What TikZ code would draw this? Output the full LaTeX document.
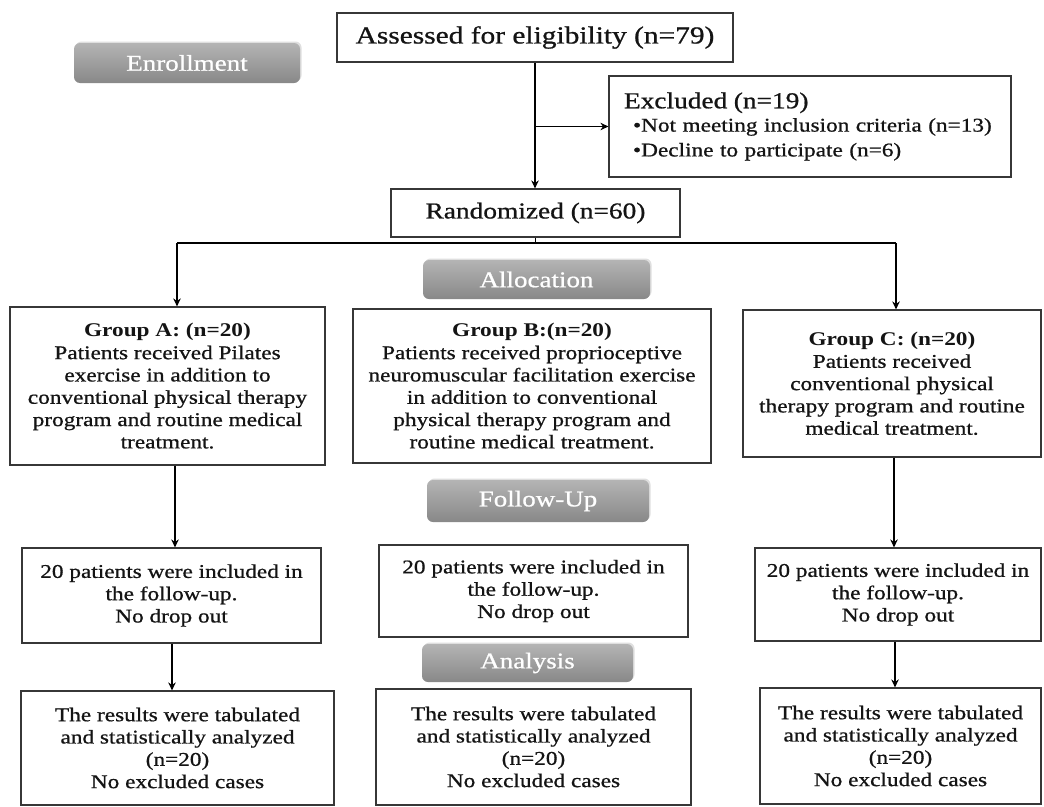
\documentclass[tikz,border=0pt]{standalone}
\usepackage{fontspec}
\setmainfont{Liberation Serif}[FakeStretch=1.2, UprightFeatures={FakeBold=0.8}]
\usetikzlibrary{arrows.meta,shadows}
\definecolor{lblTop}{RGB}{180,180,180}
\definecolor{lblBot}{RGB}{136,136,136}
\definecolor{ink}{RGB}{20,20,20}
\definecolor{edge}{RGB}{55,55,55}
\newcommand{\myBig}{\fontsize{24.5}{29}\selectfont}
\newcommand{\myMid}{\fontsize{22.8}{24.5}\selectfont}
\newcommand{\myLbl}{\fontsize{22.5}{26}\selectfont}
\newcommand{\mySm}{\fontsize{19.4}{22.3}\selectfont}
\tikzset{
  box/.style={draw=edge, line width=1.2pt, fill=white, align=center, inner sep=0pt, text=ink},
  lbl/.style={rounded corners=6pt, top color=lblTop, bottom color=lblBot, draw=none,
              text=white, inner sep=0pt, font=\myLbl,
              drop shadow={opacity=0.25, shadow xshift=1.5pt, shadow yshift=1.5pt}},
  arr/.style={draw=black, line width=1.3pt, -{Stealth[length=8pt,width=7.5pt]}},
  ln/.style={draw=black, line width=1.3pt}
}
\begin{document}
\begin{tikzpicture}[x=1pt,y=-1pt]
\useasboundingbox[fill=white] (0,0) rectangle (1044,806);

% stage labels
\node[lbl, minimum width=226pt, minimum height=40pt] (enroll) at (187,63) {Enrollment};
\node[lbl, minimum width=227pt, minimum height=39pt] (alloc) at (536.5,279.5) {Allocation};
\node[lbl, minimum width=222pt, minimum height=42pt] (follow) at (538,501) {Follow-Up};
\node[lbl, minimum width=211pt, minimum height=38pt] (analysis) at (527.5,663) {Analysis};

% enrollment
\node[box, minimum width=396pt, minimum height=49pt, font=\myBig] (assess) at (535,37.5)
  {Assessed for eligibility (n=79)};
\node[box, text width=372pt, inner xsep=15pt, minimum height=101pt, align=left, font=\mySm] (excl) at (810,126.5)
  {{\myMid Excluded (n=19)}\\[1pt]
   \hspace*{9pt}•Not meeting inclusion criteria (n=13)\\[2.5pt]
   \hspace*{9pt}•Decline to participate (n=6)};
\node[box, minimum width=289pt, minimum height=48pt, font=\myMid] (rand) at (535.5,213)
  {Randomized (n=60)};

% groups
\node[box, minimum width=315pt, minimum height=158pt, font=\mySm] (grpA) at (167.5,386)
  {\textbf{Group A: (n=20)}\\
   Patients received Pilates\\
   exercise in addition to\\
   conventional physical therapy\\
   program and routine medical\\
   treatment.};
\node[box, minimum width=358pt, minimum height=154pt, font=\mySm] (grpB) at (532,386)
  {\textbf{Group B:(n=20)}\\
   Patients received proprioceptive\\
   neuromuscular facilitation exercise\\
   in addition to conventional\\
   physical therapy program and\\
   routine medical treatment.};
\node[box, minimum width=298pt, minimum height=147pt, font=\mySm] (grpC) at (892,383.5)
  {\textbf{Group C: (n=20)}\\
   Patients received\\
   conventional physical\\
   therapy program and routine\\
   medical treatment.};

% follow-up
\node[box, minimum width=299pt, minimum height=95pt, font=\mySm] (fuA) at (171.5,595.5)
  {20 patients were included in\\ the follow-up.\\ No drop out};
\node[box, minimum width=309pt, minimum height=92pt, font=\mySm] (fuB) at (533.5,591)
  {20 patients were included in\\ the follow-up.\\ No drop out};
\node[box, minimum width=286pt, minimum height=93pt, font=\mySm] (fuC) at (898,594.5)
  {20 patients were included in\\ the follow-up.\\ No drop out};

% analysis
\node[box, minimum width=313pt, minimum height=114pt, font=\mySm] (resA) at (177.5,748)
  {The results were tabulated\\ and statistically analyzed\\ (n=20)\\ No excluded cases};
\node[box, minimum width=315pt, minimum height=116pt, font=\mySm] (resB) at (533.5,747)
  {The results were tabulated\\ and statistically analyzed\\ (n=20)\\ No excluded cases};
\node[box, minimum width=281pt, minimum height=116pt, font=\mySm] (resC) at (900.5,746)
  {The results were tabulated\\ and statistically analyzed\\ (n=20)\\ No excluded cases};

% connectors
\coordinate (busL) at (177,243);
\coordinate (busR) at (896,243);
\draw[arr] (assess.south) -- (assess.south |- rand.north);
\draw[arr] (assess.south |- excl.west) -- (excl.west);
\draw[ln] (rand.south) -- (rand.south |- busL);
\draw[ln] (busL) -- (busR);
\draw[arr] (busL) -- (busL |- grpA.north);
\draw[arr] (busR) -- (busR |- grpC.north);
\draw[arr] ([xshift=7.5pt]grpA.south) -- ([xshift=7.5pt]grpA.south |- fuA.north);
\draw[arr] ([xshift=0.5pt]fuA.south) -- ([xshift=0.5pt]fuA.south |- resA.north);
\draw[arr] ([xshift=2pt]grpC.south) -- ([xshift=2pt]grpC.south |- fuC.north);
\draw[arr] ([xshift=-3pt]fuC.south) -- ([xshift=-3pt]fuC.south |- resC.north);
\end{tikzpicture}
\end{document}
